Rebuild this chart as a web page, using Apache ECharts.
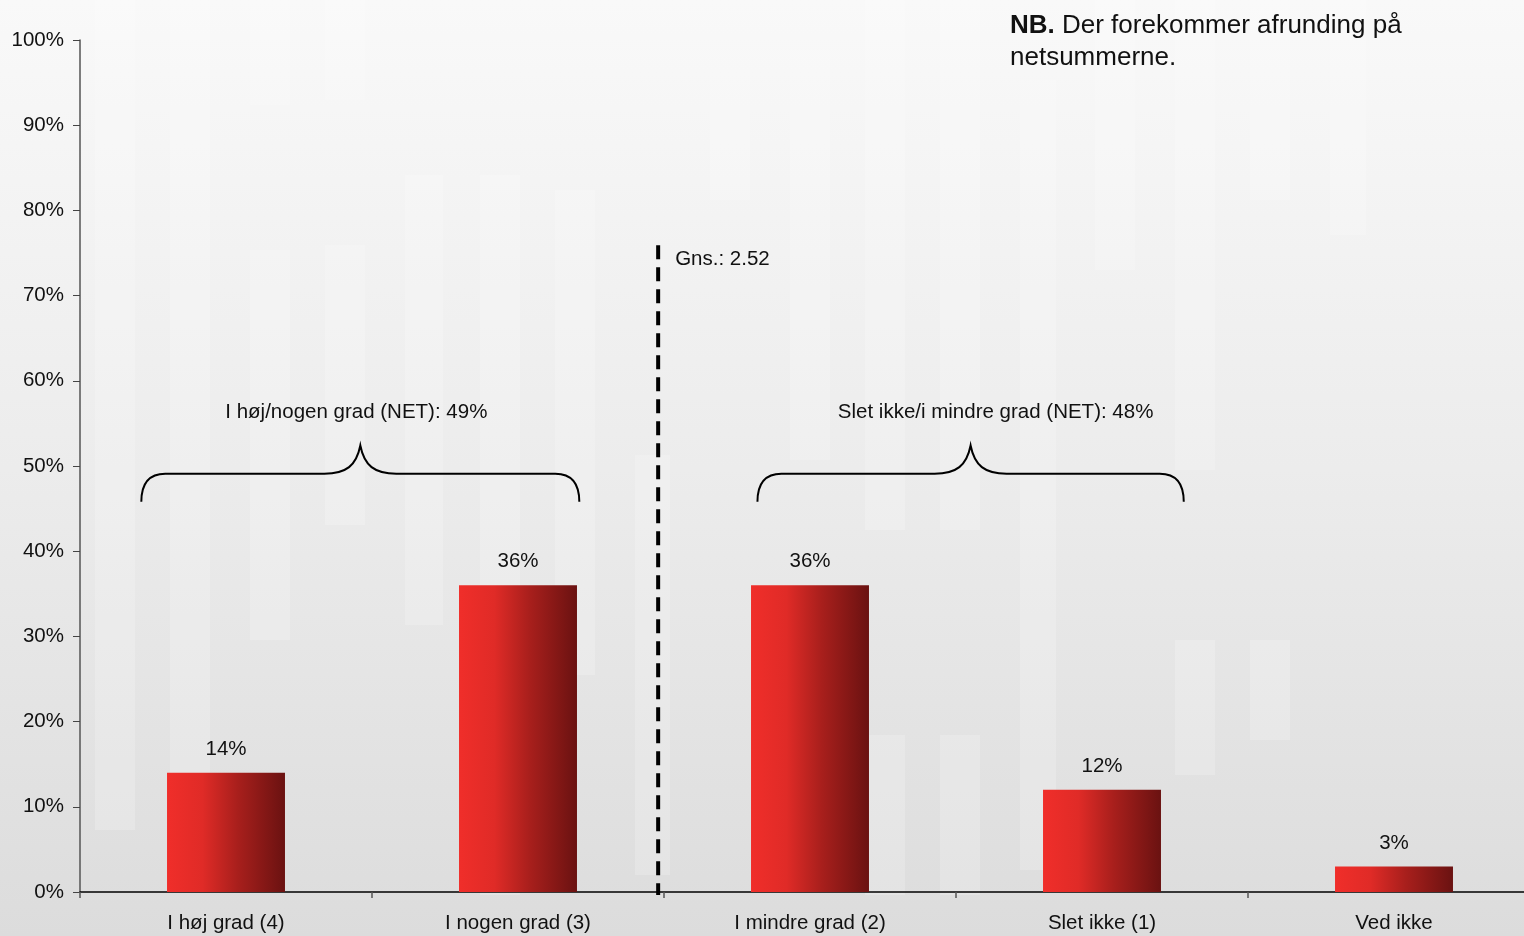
<!DOCTYPE html>
<html>
<head>
<meta charset="utf-8">
<title>Gns. 2.52</title>
<script src="https://cdn.jsdelivr.net/npm/echarts@6/dist/echarts.min.js"></script>
<style>
  html, body { margin: 0; padding: 0; overflow: hidden; }
  /* the plot runs a little past the right edge of the window */
  #chart { width: 1540px; height: 936px; }
</style>
</head>
<body>
<div id="chart"></div>
<script>
// Answer categories (scale 4..1 plus "don't know") and their shares in percent
const categories = ['I høj grad (4)', 'I nogen grad (3)', 'I mindre grad (2)', 'Slet ikke (1)', 'Ved ikke'];
const shares = [14, 36, 36, 12, 3];
const yTicks = [0, 10, 20, 30, 40, 50, 60, 70, 80, 90, 100];

// Net groupings: which categories each brace spans, and the net share
const netNames = ['I høj/nogen grad (NET)', 'Slet ikke/i mindre grad (NET)'];
const netSpans = [[0, 1], [2, 3]];
const netValues = [49, 48];

// Mean score on the 1-4 scale
const meanScore = 2.52;
const scaleTop = 4;

// ---- layout / style constants ----
const FONT = '"Liberation Sans", Arial, Helvetica, sans-serif';
const TXT = '#111';
const FS = 20.5;
const braceInsets = [[0.21, 0.29], [0.32, 0.22]]; // start/end inset inside the spanned categories
const netLabelShift = [-4, 25];                    // horizontal nudge of each net caption, px
const BRACE_LEVEL = 49.1, BRACE_END = 45.8, BRACE_TIP = 52.4, NET_LABEL_Y = 56.3;
const MEAN_TOP = 75.9;

const chart = echarts.init(document.getElementById('chart'), null, { renderer: 'canvas' });

// category i (0-based) sits between i and i+1 on the hidden value axis
const meanPos = 0.5 + (scaleTop - meanScore);

const braceData = netSpans.map((s, i) => [s[0] + braceInsets[i][0], s[1] + 1 - braceInsets[i][1], netValues[i], i]);

function renderBrace(params, api) {
  const x0 = api.value(0), x1 = api.value(1);
  const idx = api.value(3);
  const xm = (x0 + x1) / 2;
  const pL = api.coord([x0, BRACE_END]);
  const pR = api.coord([x1, BRACE_END]);
  const yb = api.coord([x0, BRACE_LEVEL])[1];
  const pT = api.coord([xm, BRACE_TIP]);
  const L = pL[0], R = pR[0], ye = pL[1], M = pT[0], yt = pT[1];
  const d = [
    'M', L, ye,
    'C', L, yb + 10, L + 8, yb, L + 24, yb,
    'L', M - 36, yb,
    'C', M - 14, yb, M - 4, yb - 8, M, yt,
    'C', M + 4, yb - 8, M + 14, yb, M + 36, yb,
    'L', R - 24, yb,
    'C', R - 8, yb, R, yb + 10, R, ye
  ].join(' ');
  const lab = api.coord([xm, NET_LABEL_Y]);
  return {
    type: 'group',
    children: [
      { type: 'path', shape: { pathData: d }, style: { fill: null, stroke: '#000', lineWidth: 2 } },
      {
        type: 'text',
        style: {
          text: netNames[idx] + ': ' + api.value(2) + '%',
          x: lab[0] + netLabelShift[idx], y: lab[1],
          align: 'center', verticalAlign: 'middle',
          font: FS + 'px ' + FONT, fill: TXT
        }
      }
    ]
  };
}

function renderMean(params, api) {
  const x = api.value(0);
  const top = api.coord([x, api.value(1)]);
  const bottom = api.coord([x, 0]);
  return {
    type: 'group',
    children: [
      {
        type: 'line',
        shape: { x1: top[0], y1: top[1], x2: bottom[0], y2: bottom[1] + 3 },
        style: { stroke: '#000', lineWidth: 4, lineDash: [14, 8] }
      },
      {
        type: 'text',
        style: {
          text: 'Gns.: ' + meanScore.toFixed(2),
          x: top[0] + 17, y: top[1] + 14,
          align: 'left', verticalAlign: 'middle',
          font: FS + 'px ' + FONT, fill: TXT
        }
      }
    ]
  };
}

// faint light panels in the backdrop
const panels = [
  [95, 0, 40, 830], [170, 0, 40, 880], [250, 0, 40, 105], [250, 250, 40, 390], [325, 0, 40, 100],
  [325, 245, 40, 280], [405, 175, 38, 450], [480, 175, 40, 720], [555, 190, 40, 485], [635, 455, 35, 420],
  [710, 70, 40, 130], [790, 50, 40, 410], [865, 0, 40, 530], [865, 735, 40, 160], [940, 0, 40, 530],
  [940, 735, 40, 160], [1020, 80, 36, 790], [1095, 0, 40, 270], [1175, 0, 40, 470], [1175, 640, 40, 135],
  [1250, 0, 40, 200], [1250, 640, 40, 100], [1330, 0, 36, 235]
];

const option = {
  backgroundColor: {
    type: 'linear', x: 0, y: 0, x2: 0, y2: 1,
    colorStops: [
      { offset: 0, color: '#f9f9f9' },
      { offset: 0.5, color: '#ececec' },
      { offset: 1, color: '#dcdcdc' }
    ]
  },
  animation: false,
  textStyle: { fontFamily: FONT },
  graphic: panels.map(p => ({
    type: 'rect', z: -10, silent: true,
    shape: { x: p[0], y: p[1], width: p[2], height: p[3] },
    style: { fill: 'rgba(255,255,255,0.2)' }
  })).concat([{
    type: 'text', left: 1010, top: 10, z: 10,
    style: {
      text: '{b|NB.} Der forekommer afrunding på\nnetsummerne.',
      font: '26px ' + FONT, fill: '#111', lineHeight: 32,
      rich: { b: { fontWeight: 'bold', fontSize: 26, fontFamily: FONT, fill: '#111' } }
    }
  }]),
  grid: { left: 80, top: 40, right: 0, bottom: 44, containLabel: false },
  xAxis: [
    {
      type: 'category',
      data: categories,
      axisLine: { show: true, lineStyle: { color: '#000', width: 1.5 } },
      axisTick: { show: true, length: 6, interval: 0, lineStyle: { color: '#555', width: 1.5 } },
      axisLabel: { interval: 0, margin: 21, fontSize: FS, color: TXT, fontFamily: FONT },
      splitLine: { show: false }
    },
    { type: 'value', min: 0, max: 5, show: false }
  ],
  yAxis: {
    type: 'value', min: yTicks[0], max: yTicks[yTicks.length - 1], interval: yTicks[1] - yTicks[0],
    axisLine: { show: true, lineStyle: { color: '#555', width: 1.5 } },
    axisTick: { show: true, length: 7, lineStyle: { color: '#444' } },
    axisLabel: { formatter: '{value}%', margin: 16, fontSize: FS, color: TXT, fontFamily: FONT },
    splitLine: { show: false }
  },
  series: [
    {
      type: 'bar',
      data: shares,
      barWidth: '40.4%',
      itemStyle: {
        color: {
          type: 'linear', x: 0, y: 0, x2: 1, y2: 0,
          colorStops: [
            { offset: 0, color: '#f02e2a' },
            { offset: 0.3, color: '#e02b27' },
            { offset: 0.6, color: '#a81f1c' },
            { offset: 1, color: '#6a1211' }
          ]
        }
      },
      label: {
        show: true, position: 'top', distance: 13,
        formatter: '{c}%', fontSize: FS, color: TXT, fontFamily: FONT
      },
      z: 3
    },
    {
      type: 'custom',
      xAxisIndex: 1, yAxisIndex: 0,
      data: braceData,
      encode: { x: [0, 1], y: 2 },
      renderItem: renderBrace,
      silent: true, z: 4
    },
    {
      type: 'custom',
      xAxisIndex: 1, yAxisIndex: 0,
      data: [[meanPos, MEAN_TOP]],
      encode: { x: 0, y: 1 },
      renderItem: renderMean,
      silent: true, z: 5
    }
  ]
};

chart.setOption(option);
</script>
</body>
</html>
